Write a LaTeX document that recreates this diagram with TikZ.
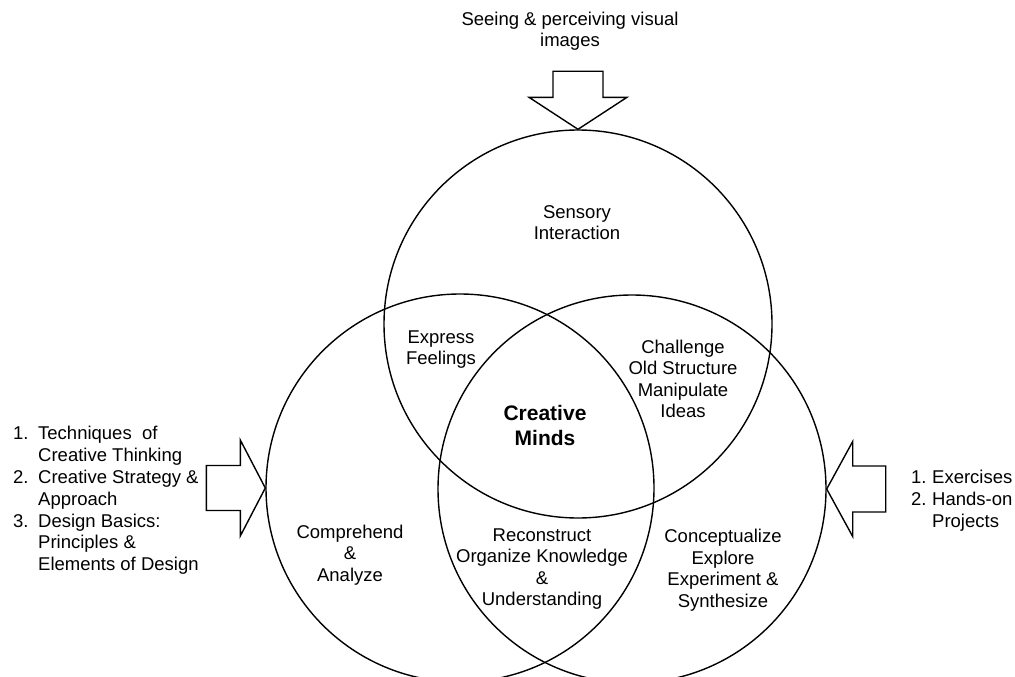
\documentclass[tikz,border=0pt]{standalone}
\usepackage{fontspec}
\setmainfont{Liberation Sans}
\begin{document}
\begin{tikzpicture}[x=1pt,y=-1pt,
  ring/.style={circle,draw,line width=1.4pt,minimum size=388pt,inner sep=0pt},
  blockarrow/.style={draw,line width=1.4pt,line join=miter,fill=white},
  lbl/.style={align=center,inner sep=0pt,font=\fontsize{18.5}{21.5}\selectfont},
  bigl/.style={align=center,inner sep=0pt,font=\fontsize{21}{25}\selectfont\bfseries},
  lst/.style={align=left,inner sep=0pt,font=\fontsize{18.5}{21.8}\selectfont}]
\useasboundingbox (0,0) rectangle (1015,677);
\clip (0,0) rectangle (1015,677);
% circles
\node[ring] (top) at (578,324) {};
\node[ring] (left) at (460,488) {};
\node[ring] (right) at (632,489) {};
% block arrows
\draw[blockarrow] (top.north) -- ++(-49,-32) -- ++(24,0) -- ++(0,-26) -- ++(50,0) -- ++(0,26) -- ++(24,0) -- cycle;
\draw[blockarrow] (left.west) -- ++(-25,-48) -- ++(0,25.5) -- ++(-34,0) -- ++(0,45) -- ++(34,0) -- ++(0,25.5) -- cycle;
\draw[blockarrow] (right.east) -- ++(26,-47.5) -- ++(0,24.5) -- ++(33,0) -- ++(0,46) -- ++(-33,0) -- ++(0,24.5) -- cycle;
% texts
\node[lbl] (seeing) at (570,31) {Seeing \& perceiving visual\\images};
\node[lbl] (sensory) at (577,222.5) {Sensory\\Interaction};
\node[lbl] (express) at (441,349.5) {Express\\Feelings};
\node[lbl] (challenge) at (683,379) {Challenge\\Old Structure\\Manipulate\\Ideas};
\node[bigl] (minds) at (545,425.5) {Creative\\Minds};
\node[lbl] (comprehend) at (350,555) {Comprehend\\\&\\Analyze};
\node[lbl] (reconstruct) at (542,569) {Reconstruct\\Organize Knowledge\\\&\\Understanding};
\node[lbl] (concept) at (723,570) {Conceptualize\\Explore\\Experiment \&\\Synthesize};
\node[lst,anchor=west] (inputs) at (13,500.5) {\makebox[25pt][l]{1.}Techniques\ \ of\\\hspace*{25pt}Creative Thinking\\\makebox[25pt][l]{2.}Creative Strategy \&\\\hspace*{25pt}Approach\\\makebox[25pt][l]{3.}Design Basics:\\\hspace*{25pt}Principles \&\\\hspace*{25pt}Elements of Design};
\node[lst,anchor=west] (practice) at (911,501) {\makebox[21pt][l]{1.}Exercises\\\makebox[21pt][l]{2.}Hands-on\\\hspace*{21pt}Projects};
\end{tikzpicture}
\end{document}
